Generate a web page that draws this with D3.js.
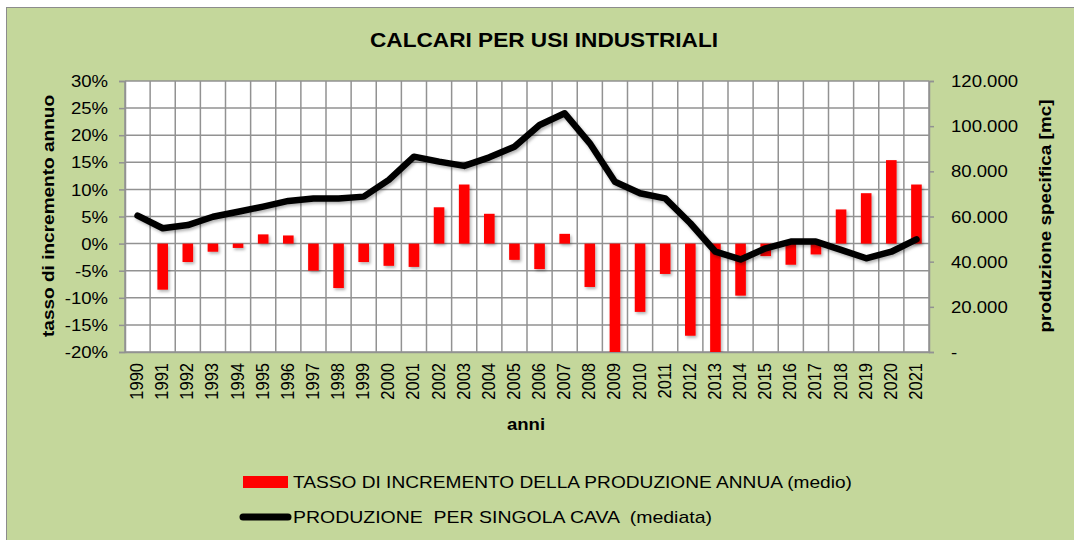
<!DOCTYPE html>
<html>
<head>
<meta charset="utf-8">
<script src="https://cdn.jsdelivr.net/npm/d3@7"></script>
<style>
  body { margin: 0; background: #fff; }
  text { font-family: "Liberation Sans", Arial, sans-serif; fill: #000; }
</style>
</head>
<body>
<div id="viz"></div>
<script>

var anni = ['1990','1991','1992','1993','1994','1995','1996','1997','1998','1999','2000',
  '2001','2002','2003','2004','2005','2006','2007','2008','2009','2010','2011','2012',
  '2013','2014','2015','2016','2017','2018','2019','2020','2021'];

// tasso di incremento annuo (%)
var tasso = [0, -8.5, -3.4, -1.5, -0.8, 1.7, 1.5, -5.0, -8.2, -3.4, -4.1, -4.3, 6.7, 10.9,
  5.5, -3.0, -4.7, 1.8, -8.0, -21.0, -12.6, -5.6, -17.0, -21.5, -9.6, -2.3, -3.9, -2.0,
  6.3, 9.3, 15.4, 10.9];

// produzione per singola cava (mc)
var produzione = [60400, 54800, 56200, 59900, 62100, 64400, 66900, 68000, 68000, 68800,
  76200, 86500, 84300, 82400, 86200, 90900, 100500, 105700, 92400, 75400, 70300, 68000,
  57000, 44400, 41000, 45900, 48900, 48900, 45200, 41500, 44400, 49900];

var pctTicks = [-20, -15, -10, -5, 0, 5, 10, 15, 20, 25, 30];
var prodTicks = [0, 20000, 40000, 60000, 80000, 100000, 120000];

var titolo = 'CALCARI PER USI INDUSTRIALI',
    legendaBarre = 'TASSO DI INCREMENTO DELLA PRODUZIONE ANNUA (medio)',
    legendaLinea = 'PRODUZIONE  PER SINGOLA CAVA  (mediata)';

var width = 1074, height = 540,
    plot = {left: 125, right: 929, top: 81, bottom: 352},
    sx = 1.16,
    grid = '#929292';

var it = d3.formatLocale({decimal: ',', thousands: '.', grouping: [3], currency: ['€', '']});
var fmtProd = it.format(',.0f');

var x = d3.scaleBand()
  .domain(anni)
  .range([plot.left, plot.right]);

var yPct = d3.scaleLinear()
  .domain([-20, 30])
  .range([plot.bottom, plot.top]);

var yProd = d3.scaleLinear()
  .domain([0, 120000])
  .range([plot.bottom, plot.top]);

var svg = d3.select('#viz').append('svg')
  .attr('width', width)
  .attr('height', height);

var defs = svg.append('defs');
defs.append('filter')
  .attr('id', 'ombra')
  .attr('x', '-20%').attr('y', '-20%').attr('width', '140%').attr('height', '140%')
  .append('feDropShadow')
  .attr('dx', 1.5).attr('dy', 2).attr('stdDeviation', 1.6)
  .attr('flood-color', '#000').attr('flood-opacity', 0.3);
defs.append('clipPath')
  .attr('id', 'area')
  .append('rect')
  .attr('x', plot.left).attr('y', plot.top)
  .attr('width', plot.right - plot.left).attr('height', plot.bottom - plot.top);

// sfondo
svg.append('rect')
  .attr('x', 6.5).attr('y', 7.5)
  .attr('width', width + 20).attr('height', height + 20)
  .attr('fill', '#c4d79b')
  .attr('stroke', '#8c8c8c');

svg.append('rect')
  .attr('x', plot.left).attr('y', plot.top)
  .attr('width', plot.right - plot.left).attr('height', plot.bottom - plot.top)
  .attr('fill', '#fff');

// griglia
svg.append('g')
  .selectAll('line')
  .data(pctTicks)
  .join('line')
  .attr('x1', plot.left).attr('x2', plot.right)
  .attr('y1', d => yPct(d)).attr('y2', d => yPct(d))
  .attr('stroke', grid).attr('stroke-width', 1.5);

svg.append('g')
  .selectAll('line')
  .data(anni.concat(['fine']))
  .join('line')
  .attr('x1', (d, i) => plot.left + i * x.step())
  .attr('x2', (d, i) => plot.left + i * x.step())
  .attr('y1', plot.top).attr('y2', plot.bottom)
  .attr('stroke', grid).attr('stroke-width', 1.5);

// asse sinistro
var yAxisLeft = svg.append('g')
  .attr('transform', 'translate(' + plot.left + ',0)')
  .call(d3.axisLeft(yPct).tickValues(pctTicks).tickSize(6).tickFormat(d => d + '%'));
yAxisLeft.select('.domain').attr('stroke', grid).attr('stroke-width', 1.5);
yAxisLeft.selectAll('.tick line').attr('stroke', grid).attr('stroke-width', 1.5);
yAxisLeft.selectAll('.tick text')
  .attr('x', 0).attr('dy', '0.35em')
  .attr('transform', 'translate(-17,0) scale(' + sx + ',1)')
  .style('font-size', '16px').attr('fill', '#000');

// asse destro
var yAxisRight = svg.append('g')
  .attr('transform', 'translate(' + plot.right + ',0)')
  .call(d3.axisRight(yProd).tickValues(prodTicks).tickSize(5)
    .tickFormat(d => d === 0 ? '-' : fmtProd(d)));
yAxisRight.select('.domain').attr('stroke', grid).attr('stroke-width', 1.5);
yAxisRight.selectAll('.tick line').attr('stroke', grid).attr('stroke-width', 1.5);
yAxisRight.selectAll('.tick text')
  .attr('x', 0).attr('dy', '0.35em')
  .attr('transform', 'translate(22,0) scale(' + sx + ',1)')
  .style('font-size', '16px').attr('fill', '#000');

// asse x
var xAxis = svg.append('g')
  .attr('transform', 'translate(0,' + plot.bottom + ')')
  .call(d3.axisBottom(x).tickSize(0));
xAxis.select('.domain').attr('stroke', grid).attr('stroke-width', 1.5);
xAxis.selectAll('.tick text')
  .attr('x', 0).attr('y', 0).attr('dy', 0)
  .attr('text-anchor', 'end')
  .attr('transform', 'translate(5.5,11) scale(' + sx + ',1) rotate(-90)')
  .style('font-size', '16.5px').attr('fill', '#000');

// barre
svg.append('g')
  .attr('clip-path', 'url(#area)')
  .append('g')
  .attr('filter', 'url(#ombra)')
  .selectAll('rect')
  .data(tasso)
  .join('rect')
  .attr('x', (d, i) => x(anni[i]) + x.bandwidth() / 2 - 5.3)
  .attr('width', 10.6)
  .attr('y', d => yPct(Math.max(0, d)))
  .attr('height', d => Math.abs(yPct(d) - yPct(0)))
  .attr('fill', '#ff0000');

// linea produzione
var prodLine = d3.line()
  .x((d, i) => x(anni[i]) + x.bandwidth() / 2)
  .y(d => yProd(d));

svg.append('path')
  .datum(produzione)
  .attr('d', prodLine)
  .attr('fill', 'none')
  .attr('stroke', '#000')
  .attr('stroke-width', 6.5)
  .attr('stroke-linejoin', 'round')
  .attr('stroke-linecap', 'round')
  .attr('filter', 'url(#ombra)');

// titoli
svg.append('text')
  .attr('transform', 'translate(544,47) scale(' + sx + ',1)')
  .attr('text-anchor', 'middle')
  .style('font-size', '19.5px').style('font-weight', 'bold')
  .text(titolo);

svg.append('text')
  .attr('transform', 'translate(526,430) scale(' + sx + ',1)')
  .attr('text-anchor', 'middle')
  .style('font-size', '16px').style('font-weight', 'bold')
  .text('anni');

svg.append('text')
  .attr('transform', 'translate(54,216) rotate(-90)')
  .attr('text-anchor', 'middle')
  .attr('textLength', 242).attr('lengthAdjust', 'spacingAndGlyphs')
  .style('font-size', '16.5px').style('font-weight', 'bold')
  .text('tasso di incremento annuo');

svg.append('text')
  .attr('transform', 'translate(1051,216) rotate(-90)')
  .attr('text-anchor', 'middle')
  .attr('textLength', 233).attr('lengthAdjust', 'spacingAndGlyphs')
  .style('font-size', '16.5px').style('font-weight', 'bold')
  .text('produzione specifica [mc]');

// legenda
var legend = svg.append('g').attr('class', 'legenda');

legend.append('rect')
  .attr('x', 243).attr('y', 476)
  .attr('width', 45).attr('height', 12)
  .attr('fill', '#ff0000');

legend.append('text')
  .attr('x', 293).attr('y', 488)
  .attr('textLength', 559).attr('lengthAdjust', 'spacingAndGlyphs')
  .style('font-size', '17px')
  .text(legendaBarre);

legend.append('line')
  .attr('x1', 243).attr('x2', 288)
  .attr('y1', 517).attr('y2', 517)
  .attr('stroke', '#000').attr('stroke-width', 7)
  .attr('stroke-linecap', 'round');

legend.append('text')
  .attr('x', 293).attr('y', 523)
  .attr('textLength', 419).attr('lengthAdjust', 'spacingAndGlyphs')
  .style('font-size', '17px').style('white-space', 'pre')
  .text(legendaLinea);

</script>
</body>
</html>
